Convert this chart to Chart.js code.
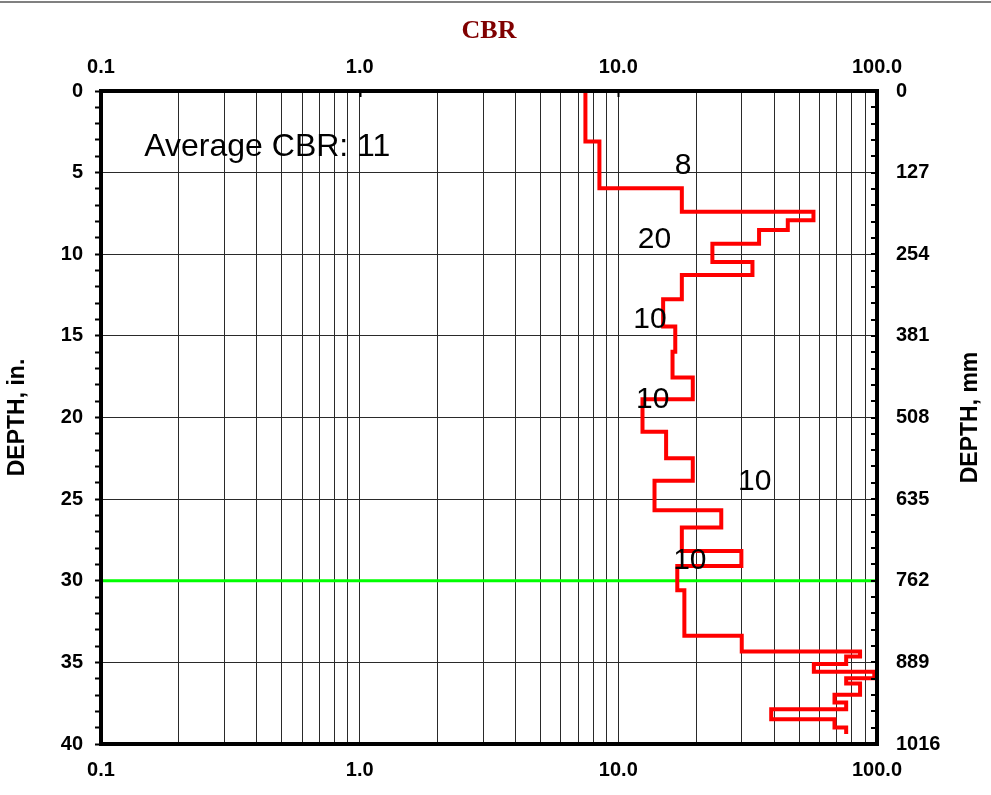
<!DOCTYPE html>
<html><head><meta charset="utf-8">
<script src="https://cdn.jsdelivr.net/npm/chart.js@4/dist/chart.umd.min.js"></script>
<style>html,body{margin:0;padding:0;background:#fff;}canvas{display:block;}</style>
</head><body>
<canvas id="c" width="991" height="795"></canvas>
<script>
// ---------- data ----------
const chartTitle = 'CBR';
const leftAxisTitle = 'DEPTH, in.';
const rightAxisTitle = 'DEPTH, mm';
// layer boundaries (depth, in.) and CBR value of each layer
const depthBreaks = [0, 3.1, 5.96, 7.39, 7.92, 8.51, 9.35, 10.47, 11.27, 12.76, 14.43, 15.98, 17.55, 18.88, 20.88, 22.5, 23.88, 25.68, 26.74, 28.17, 29.09, 30.58, 33.37, 34.33, 34.64, 35.1, 35.58, 35.97, 36.29, 36.99, 37.46, 37.87, 38.48, 38.99, 39.39];
const cbrValues = [7.46, 8.45, 17.6, 56.8, 45.2, 35.0, 23.1, 33.0, 17.6, 14.9, 16.6, 16.2, 19.4, 12.4, 15.3, 19.4, 13.8, 25.0, 17.6, 29.9, 16.9, 18.0, 30.0, 86, 76, 57, 97.6, 76, 86, 68.5, 76, 39, 68.5, 76];
const referenceDepth = 30;
const cbrTickLabels = [0.1, 1, 10, 100];
const depthTickLabels = [0, 5, 10, 15, 20, 25, 30, 35, 40];
const mmPerInch = 25.4;
const averageText = 'Average CBR: 11';
const averageCBR = 0.147;
const averageDepth = 3.98;
const layerTexts = ['8', '20', '10', '10', '10', '10'];
const layerTextCBR = [17.8, 13.8, 13.26, 13.59, 33.65, 18.9];
const layerTextDepth = [5.10, 9.60, 14.54, 19.44, 24.46, 29.30];

// ---------- build ----------
const profilePoints = [];
cbrValues.forEach((v, i) => {
  profilePoints.push({x: v, y: depthBreaks[i]}, {x: v, y: depthBreaks[i + 1]});
});
const gridCBR = [];
cbrTickLabels.slice(0, -1).forEach(d => {
  gridCBR.push(d);
  for (let k = 2; k <= 9; k++) gridCBR.push(+(d * k).toPrecision(3));
});
gridCBR.push(cbrTickLabels[cbrTickLabels.length - 1]);
const depthMinor = [];
for (let d = depthTickLabels[0]; d <= depthTickLabels[depthTickLabels.length - 1]; d++) depthMinor.push(d);

const FONT = "'Liberation Sans', Arial, sans-serif";
const GRID = '#2a2a2a';
const tickFont = {family: FONT, size: 20, weight: 'bold'};

const decor = {
  id: 'decor',
  beforeDraw(chart) {
    const ctx = chart.ctx;
    ctx.save();
    ctx.fillStyle = '#fff';
    ctx.fillRect(0, 0, chart.width, chart.height);
    ctx.fillStyle = '#808080';
    ctx.fillRect(0, 1, chart.width, 2);
    ctx.restore();
  },
  afterDraw(chart) {
    const {ctx, chartArea: a, scales} = chart;
    const sx = scales.x, sy = scales.y;
    ctx.save();
    // notes
    ctx.fillStyle = '#000';
    ctx.textBaseline = 'alphabetic';
    ctx.font = "32px " + FONT;
    ctx.textAlign = 'left';
    ctx.fillText(averageText, sx.getPixelForValue(averageCBR), sy.getPixelForValue(averageDepth));
    ctx.font = "30px " + FONT;
    ctx.textAlign = 'center';
    layerTexts.forEach((t, i) => {
      ctx.fillText(t, sx.getPixelForValue(layerTextCBR[i]), sy.getPixelForValue(layerTextDepth[i]));
    });
    // inward ticks on right axis
    ctx.strokeStyle = '#000';
    ctx.lineWidth = 2;
    depthMinor.forEach(d => {
      const y = Math.round(sy.getPixelForValue(d));
      ctx.beginPath(); ctx.moveTo(a.right - 6, y); ctx.lineTo(a.right, y); ctx.stroke();
    });
    // inward ticks on top axis at decades
    cbrTickLabels.forEach(v => {
      const x = Math.round(sx.getPixelForValue(v)) + 0.5;
      ctx.lineWidth = 2;
      ctx.beginPath(); ctx.moveTo(x, a.top); ctx.lineTo(x, a.top + 6); ctx.stroke();
    });
    // frame
    ctx.lineWidth = 4;
    ctx.strokeRect(a.left, a.top, a.right - a.left, a.bottom - a.top);
    // title
    ctx.fillStyle = '#800000';
    ctx.font = "bold 26px 'Liberation Serif', 'Times New Roman', serif";
    ctx.textAlign = 'center';
    ctx.fillText(chartTitle, (a.left + a.right) / 2, 38);
    // axis titles
    ctx.fillStyle = '#000';
    ctx.font = "bold 23px " + FONT;
    ctx.textBaseline = 'middle';
    const cy = (a.top + a.bottom) / 2;
    [[18, leftAxisTitle], [971, rightAxisTitle]].forEach(([x, t]) => {
      ctx.save();
      ctx.translate(x, cy);
      ctx.rotate(-Math.PI / 2);
      ctx.fillText(t, 0, 0);
      ctx.restore();
    });
    ctx.restore();
  }
};

const xAxisBase = (pos, h, pad) => ({
  type: 'logarithmic', position: pos, min: cbrTickLabels[0], max: cbrTickLabels[cbrTickLabels.length - 1],
  afterBuildTicks: s => { s.ticks = gridCBR.map(v => ({value: v})); },
  afterFit: s => { s.height = h; },
  border: {display: false},
  ticks: {
    autoSkip: false, maxRotation: 0, minRotation: 0, padding: pad, color: '#000', font: tickFont,
    callback: v => cbrTickLabels.includes(v) ? v.toFixed(1) : ''
  }
});

const xBottom = xAxisBase('bottom', 51, 14);
xBottom.grid = {color: GRID, lineWidth: 1, drawTicks: false};
const xTop = xAxisBase('top', 91, 12);
xTop.grid = {display: true, drawOnChartArea: false, drawTicks: false};

new Chart(document.getElementById('c'), {
  type: 'scatter',
  data: {
    datasets: [
      {data: profilePoints, showLine: true, borderColor: '#ff0000', borderWidth: 4, pointRadius: 0,
       borderJoinStyle: 'miter', borderCapStyle: 'butt', tension: 0, xAxisID: 'x', yAxisID: 'y'},
      {data: [{x: cbrTickLabels[0], y: referenceDepth}, {x: cbrTickLabels[cbrTickLabels.length - 1], y: referenceDepth}],
       showLine: true, borderColor: '#00ff00', borderWidth: 3, pointRadius: 0, xAxisID: 'x', yAxisID: 'y'}
    ]
  },
  options: {
    responsive: false, animation: false, devicePixelRatio: 1,
    layout: {padding: 0},
    plugins: {legend: {display: false}, tooltip: {enabled: false}, title: {display: false}},
    scales: {
      x: xBottom,
      x2: xTop,
      y: {
        type: 'linear', position: 'left', reverse: true,
        min: depthTickLabels[0], max: depthTickLabels[depthTickLabels.length - 1],
        afterBuildTicks: s => { s.ticks = depthMinor.map(v => ({value: v})); },
        afterFit: s => { s.width = 101; },
        border: {display: false},
        grid: {
          color: c => (c.tick && depthTickLabels.includes(c.tick.value)) ? GRID : 'rgba(0,0,0,0)',
          tickColor: '#000', tickLength: 6, tickWidth: 2, lineWidth: 1
        },
        ticks: {autoSkip: false, padding: 12, color: '#000', font: tickFont,
          callback: v => depthTickLabels.includes(v) ? String(v) : ''}
      },
      y2: {
        type: 'linear', position: 'right', reverse: true,
        min: depthTickLabels[0], max: depthTickLabels[depthTickLabels.length - 1],
        afterBuildTicks: s => { s.ticks = depthTickLabels.map(v => ({value: v})); },
        afterFit: s => { s.width = 114; },
        border: {display: false},
        grid: {display: true, drawOnChartArea: false, drawTicks: false},
        ticks: {autoSkip: false, padding: 19, color: '#000', font: tickFont,
          callback: v => String(Math.round(v * mmPerInch))}
      }
    }
  },
  plugins: [decor]
});
</script>
</body></html>
